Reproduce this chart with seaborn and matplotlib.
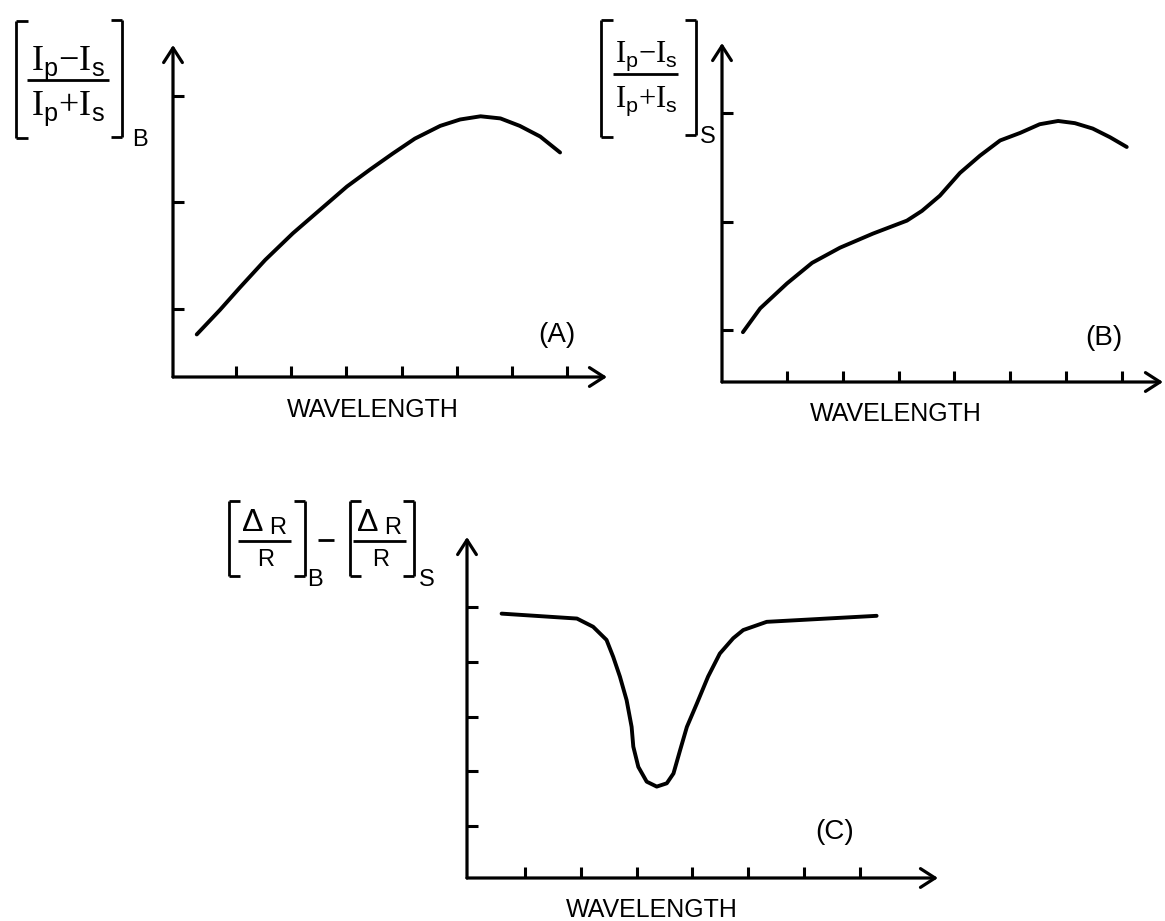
import matplotlib
matplotlib.use("Agg")
import matplotlib.pyplot as plt
import seaborn as sns
from matplotlib.lines import Line2D

# curves, arbitrary units (tick spacing = 1)
wl_a = [0.29, 0.71, 1.07, 1.53, 2.03, 2.52, 3.01, 3.43, 3.84, 4.24, 4.70, 5.06, 5.43, 5.79, 6.14, 6.51, 6.87]
pol_a = [0.76, 0.99, 1.20, 1.46, 1.71, 1.93, 2.15, 2.31, 2.46, 2.60, 2.72, 2.78, 2.81, 2.79, 2.72, 2.62, 2.47]

wl_b = [0.21, 0.52, 1.00, 1.45, 1.95, 2.54, 3.15, 3.42, 3.74, 4.10, 4.46, 4.82, 5.18, 5.53, 5.86, 6.16, 6.48,
        6.79, 7.09]
pol_b = [0.98, 1.20, 1.43, 1.62, 1.76, 1.89, 2.01, 2.10, 2.24, 2.45, 2.61, 2.75, 2.82, 2.90, 2.93, 2.91, 2.86,
         2.78, 2.69]

wl_c = [0.58, 1.93, 2.22, 2.46, 2.58, 2.70, 2.82, 2.91, 2.94, 3.03, 3.18, 3.36, 3.54, 3.66, 3.78, 3.90, 4.08,
        4.28, 4.49, 4.73, 4.91, 5.33, 7.30]
dr_c = [4.88, 4.79, 4.64, 4.40, 4.09, 3.73, 3.30, 2.81, 2.45, 2.08, 1.81, 1.72, 1.78, 1.96, 2.39, 2.81, 3.24,
        3.73, 4.15, 4.43, 4.58, 4.73, 4.84]

xticks = [1, 2, 3, 4, 5, 6, 7]
yticks_ab = [1, 2, 3]
yticks_c = [1, 2, 3, 4, 5]

W, H = 1165, 921

sns.set_theme(style="white")
plt.rcParams["font.family"] = ["Liberation Sans", "DejaVu Sans"]
plt.rcParams["mathtext.fontset"] = "custom"
plt.rcParams["mathtext.rm"] = "Liberation Serif"
plt.rcParams["mathtext.sf"] = "Liberation Sans"
plt.rcParams["mathtext.it"] = "Liberation Sans:italic"

fig = plt.figure(figsize=(W / 100, H / 100), dpi=100)
fig.patch.set_facecolor("white")


def P(x, y):
    return x / W, 1 - y / H


def rect(x0, ytop, x1, ybot):
    return [x0 / W, 1 - ybot / H, (x1 - x0) / W, (ybot - ytop) / H]


def seg(x0, y0, x1, y1, lw=2.0):
    a, b = P(x0, y0)
    c, d = P(x1, y1)
    fig.add_artist(Line2D([a, c], [b, d], color="black", lw=lw, solid_capstyle="butt"))


def bracket(x, top, bot, arm):
    seg(x, top, x, bot)
    seg(x, top, x + arm, top)
    seg(x, bot, x + arm, bot)


def txt(x, y, s, size, **kw):
    fx, fy = P(x, y)
    kw.setdefault("ha", "center")
    kw.setdefault("va", "center")
    fig.text(fx, fy, s, fontsize=size, color="black", **kw)


def panel(r, xlim, ylim, yticks, wl, val):
    ax = fig.add_axes(r)
    ax.set_facecolor("none")
    sns.lineplot(x=wl, y=val, ax=ax, color="black", lw=2.8, sort=False,
                 solid_joinstyle="round", solid_capstyle="round")
    ax.set_xlim(*xlim)
    ax.set_ylim(*ylim)
    ax.set_xticks(xticks)
    ax.set_yticks(yticks)
    ax.set_xticklabels([])
    ax.set_yticklabels([])
    ax.set(xlabel="", ylabel="")
    for s in ax.spines.values():
        s.set_visible(False)
    ax.tick_params(bottom=True, left=True, direction="in", length=8, width=2.2, color="black")
    arrow = dict(arrowstyle="->,head_length=0.7,head_width=0.45", lw=2.3, color="black",
                 shrinkA=0, shrinkB=0, mutation_scale=15)
    ax.annotate("", xy=(1, 0), xytext=(0, 0), xycoords="axes fraction",
                arrowprops=arrow, annotation_clip=False)
    ax.annotate("", xy=(0, 1), xytext=(0, 0), xycoords="axes fraction",
                arrowprops=arrow, annotation_clip=False)
    return ax


panel(rect(173, 45, 607, 377), (-0.14, 7.72), (0.36, 3.48), yticks_ab, wl_a, pol_a)
panel(rect(722, 43, 1163, 382), (-0.165, 7.74), (0.52, 3.65), yticks_ab, wl_b, pol_b)
panel(rect(467, 537, 938, 878), (-0.04, 8.40), (0.05, 6.28), yticks_c, wl_c, dr_c)

num = r"$\mathrm{I}_{\mathsf{p}}{-}\mathrm{I}_{\mathsf{s}}$"
den = r"$\mathrm{I}_{\mathsf{p}}{+}\mathrm{I}_{\mathsf{s}}$"

# label of panel A
bracket(16, 21, 138, 12)
bracket(122, 20, 137, -11)
txt(68, 70, num, 26, va="baseline")
seg(27, 80, 109, 80)
txt(68, 115, den, 26, va="baseline")
txt(140, 140, "B", 17)

# label of panel B
bracket(601, 20, 137, 12)
bracket(696, 20, 135, -11)
txt(646, 62, num, 22, va="baseline")
seg(613, 74, 678, 74)
txt(646, 107, den, 22, va="baseline")
txt(708, 137, "S", 17)

# label of panel C
for (xl, xr, sub, xs) in [(229, 305, "B", 315), (350, 414, "S", 427)]:
    bracket(xl, 501, 576, 11)
    bracket(xr, 501, 576, -11)
    cx = (xl + xr) / 2
    txt(cx - 14, 523, "\u0394", 23)
    txt(cx + 11, 528, "R", 17)
    seg(cx - 29, 541, cx + 24, 541)
    txt(cx - 1, 560, "R", 17)
    txt(xs, 580, sub, 17)
seg(318, 540, 334, 540)

txt(557, 335, "(A)", 20)
txt(1104, 338, "(B)", 20)
txt(835, 832, "(C)", 20)

txt(373, 410, "WAVELENGTH", 18)
txt(896, 414, "WAVELENGTH", 18)
txt(652, 910, "WAVELENGTH", 18)

fig.savefig("out.png", dpi=100, facecolor="white")
